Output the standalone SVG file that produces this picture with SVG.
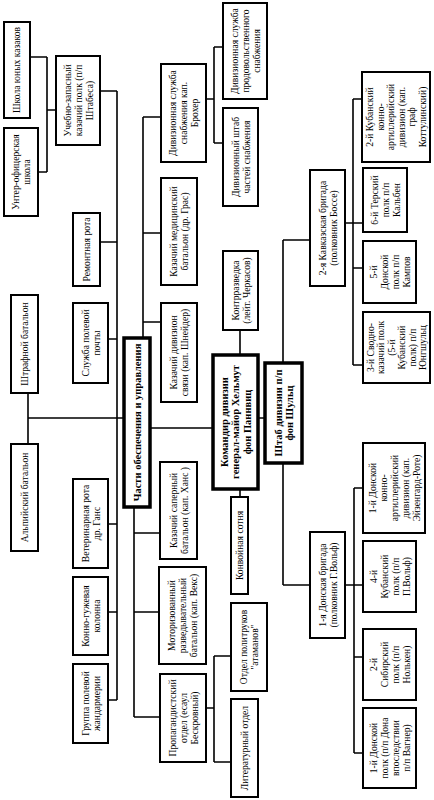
<svg xmlns="http://www.w3.org/2000/svg" width="434" height="800" viewBox="0 0 434 800">
<style>
.b{fill:#fff;stroke:#000;stroke-width:2}
.k{fill:#fff;stroke:#000;stroke-width:3.5}
.c{fill:none;stroke:#000;stroke-width:1.6}
text{font-family:"Liberation Serif","Times New Roman",serif;font-size:9.6px;text-anchor:middle;fill:#000}
.w{font-weight:bold;font-size:10.5px}
</style>
<rect width="434" height="800" fill="#fff"/>
<g id="connectors" class="c">
<path d="M117,91V700M30,57H47M47,57V172M38,172H47M47,110H56M100,91H117M100,242H117M108,339H117M28,393V444M28,418H124M108,524H117M108,612H117M108,700H117"/>
<path d="M143,117V338M143,117H161M143,233H161M143,322H161M206,99H214M214,47V143M214,47H223M214,143H223M150,428H213"/>
<path d="M134,507V717M134,533H160M134,612H159M134,717H160M206,708H214M214,656V762M214,656H231M214,762H231"/>
<path d="M240,330V355M240,489V497M258,418H265M283,240V363M283,240H310M283,463V585M283,585H310"/>
<path d="M345,223H363M353,99V365M353,99H362M353,268H363M353,365H363M345,585H363M354,488V753M354,488H363M354,657H363M354,753H363"/>
</g>
<g id="n1"><rect class="b" x="4" y="22" width="26" height="96"/><text transform="translate(17,70) rotate(-90)"><tspan x="0" y="3.4">Школа юных казаков</tspan></text></g>
<g id="n2"><rect class="b" x="4" y="128" width="34" height="88"/><text transform="translate(21,172) rotate(-90)"><tspan x="0" y="-2">Унтер-офицерская</tspan><tspan x="0" dy="11">школа</tspan></text></g>
<g id="n3"><rect class="b" x="56" y="56" width="44" height="89"/><text transform="translate(78,100.5) rotate(-90)"><tspan x="0" y="-7.5">Учебно-запасный</tspan><tspan x="0" dy="11">казачий полк (п/п</tspan><tspan x="0" dy="11">Штабеса)</tspan></text></g>
<g id="n4"><rect class="b" x="73" y="213" width="27" height="73"/><text transform="translate(86.5,249.5) rotate(-90)"><tspan x="0" y="3.4">Ремонтная рота</tspan></text></g>
<g id="n5"><rect class="b" x="73" y="303" width="35" height="80"/><text transform="translate(90.5,343) rotate(-90)"><tspan x="0" y="-2">Служба полевой</tspan><tspan x="0" dy="11">почты</tspan></text></g>
<g id="n6"><rect class="b" x="11" y="295" width="27" height="98"/><text transform="translate(24.5,344) rotate(-90)"><tspan x="0" y="3.4">Штрафной батальон</tspan></text></g>
<g id="n7"><rect class="b" x="11" y="444" width="27" height="107"/><text transform="translate(24.5,497.5) rotate(-90)"><tspan x="0" y="3.4">Альпийский батальон</tspan></text></g>
<g id="n8"><rect class="b" x="73" y="479" width="35" height="89"/><text transform="translate(90.5,523.5) rotate(-90)"><tspan x="0" y="-2">Ветеринарная рота</tspan><tspan x="0" dy="11">др. Ганс</tspan></text></g>
<g id="n9"><rect class="b" x="73" y="577" width="35" height="78"/><text transform="translate(90.5,616) rotate(-90)"><tspan x="0" y="-2">Конно-гужевая</tspan><tspan x="0" dy="11">колонна</tspan></text></g>
<g id="n10"><rect class="b" x="73" y="664" width="35" height="79"/><text transform="translate(90.5,703.5) rotate(-90)"><tspan x="0" y="-2">Группа полевой</tspan><tspan x="0" dy="11">жандармерии</tspan></text></g>
<g id="n11"><rect class="k" x="124" y="338" width="26" height="169"/><text class="w" transform="translate(137,422.5) rotate(-90)"><tspan x="0" y="3.7">Части обеспечения и управления</tspan></text></g>
<g id="n12"><rect class="b" x="161" y="64" width="45" height="98"/><text transform="translate(183.5,113) rotate(-90)"><tspan x="0" y="-7.5">Дивизионная служба</tspan><tspan x="0" dy="11">снабжения кап.</tspan><tspan x="0" dy="11">Брохер</tspan></text></g>
<g id="n13"><rect class="b" x="223" y="3" width="44" height="96"/><text transform="translate(245,51) rotate(-90)"><tspan x="0" y="-7.5">Дивизионная служба</tspan><tspan x="0" dy="11">продовольственного</tspan><tspan x="0" dy="11">снабжения</tspan></text></g>
<g id="n14"><rect class="b" x="223" y="108" width="35" height="98"/><text transform="translate(240.5,157) rotate(-90)"><tspan x="0" y="-2">Дивизионный штаб</tspan><tspan x="0" dy="11">частей снабжения</tspan></text></g>
<g id="n15"><rect class="b" x="161" y="178" width="36" height="107"/><text transform="translate(179,231.5) rotate(-90)"><tspan x="0" y="-2">Казачий медицинский</tspan><tspan x="0" dy="11">батальон (др. Грас)</tspan></text></g>
<g id="n16"><rect class="b" x="161" y="303" width="36" height="99"/><text transform="translate(179,352.5) rotate(-90)"><tspan x="0" y="-2">Казачий дивизион</tspan><tspan x="0" dy="11">связи (кап. Шнейдер)</tspan></text></g>
<g id="n17"><rect class="b" x="160" y="462" width="37" height="97"/><text transform="translate(178.5,510.5) rotate(-90)"><tspan x="0" y="-2">Казачий саперный</tspan><tspan x="0" dy="11">батальон (кап. Ханс )</tspan></text></g>
<g id="n18"><rect class="b" x="159" y="567" width="47" height="97"/><text transform="translate(182.5,615.5) rotate(-90)"><tspan x="0" y="-7.5">Моторизованный</tspan><tspan x="0" dy="11">разведывательный</tspan><tspan x="0" dy="11">батальон (кап. Векс)</tspan></text></g>
<g id="n19"><rect class="b" x="160" y="674" width="46" height="88"/><text transform="translate(183,718) rotate(-90)"><tspan x="0" y="-7.5">Пропагандистский</tspan><tspan x="0" dy="11">отдел (есаул</tspan><tspan x="0" dy="11">Бескровный)</tspan></text></g>
<g id="n20"><rect class="b" x="231" y="603" width="36" height="88"/><text transform="translate(249,647) rotate(-90)"><tspan x="0" y="-2">Отдел политруков</tspan><tspan x="0" dy="11">"атаманов"</tspan></text></g>
<g id="n21"><rect class="b" x="231" y="699" width="27" height="98"/><text transform="translate(244.5,748) rotate(-90)"><tspan x="0" y="3.4">Литературный отдел</tspan></text></g>
<g id="n22"><rect class="b" x="223" y="251" width="35" height="79"/><text transform="translate(240.5,290.5) rotate(-90)"><tspan x="0" y="-2">Контрразведка</tspan><tspan x="0" dy="11">(лейт. Черкасов)</tspan></text></g>
<g id="n23"><rect class="k" x="213" y="355" width="45" height="134"/><text class="w" transform="translate(235.5,422) rotate(-90)"><tspan x="0" y="-8">Командир дивизии</tspan><tspan x="0" dy="11.5">генерал-майор Хельмут</tspan><tspan x="0" dy="11.5">фон Паннвиц</tspan></text></g>
<g id="n24"><rect class="b" x="231" y="497" width="17" height="97"/><text transform="translate(239.5,545.5) rotate(-90)"><tspan x="0" y="3.4">Конвойная сотня</tspan></text></g>
<g id="n25"><rect class="k" x="265" y="363" width="37" height="100"/><text class="w" transform="translate(283.5,413) rotate(-90)"><tspan x="0" y="-2">Штаб дивизии п/п</tspan><tspan x="0" dy="11.5">фон Шульц</tspan></text></g>
<g id="n26"><rect class="b" x="310" y="170" width="35" height="116"/><text transform="translate(327.5,228) rotate(-90)"><tspan x="0" y="-2">2-я Кавказская бригада</tspan><tspan x="0" dy="11">(полковник Боссе)</tspan></text></g>
<g id="n27"><rect class="b" x="310" y="532" width="35" height="106"/><text transform="translate(327.5,585) rotate(-90)"><tspan x="0" y="-2">1-я Донская бригада</tspan><tspan x="0" dy="11">(полковник Г.Вольф)</tspan></text></g>
<g id="n28"><rect class="b" x="362" y="72" width="68" height="90"/><text transform="translate(396,117) rotate(-90)"><tspan x="0" y="-23">2-й Кубанский</tspan><tspan x="0" dy="10.5">конно-</tspan><tspan x="0" dy="10.5">артиллерийский</tspan><tspan x="0" dy="10.5">дивизион (кап.</tspan><tspan x="0" dy="10.5">граф</tspan><tspan x="0" dy="10.5">Коттулинский)</tspan></text></g>
<g id="n29"><rect class="b" x="363" y="168" width="44" height="64"/><text transform="translate(385,200) rotate(-90)"><tspan x="0" y="-7.5">6-й Терский</tspan><tspan x="0" dy="11">полк п/п</tspan><tspan x="0" dy="11">Кальбен</tspan></text></g>
<g id="n30"><rect class="b" x="363" y="241" width="53" height="62"/><text transform="translate(389.5,272) rotate(-90)"><tspan x="0" y="-13">5-й</tspan><tspan x="0" dy="11">Донской</tspan><tspan x="0" dy="11">полк п/п</tspan><tspan x="0" dy="11">Кампов</tspan></text></g>
<g id="n31"><rect class="b" x="363" y="312" width="67" height="71"/><text transform="translate(396.5,347.5) rotate(-90)"><tspan x="0" y="-23">3-й Сводно-</tspan><tspan x="0" dy="10.5">казачий полк</tspan><tspan x="0" dy="10.5">(5-й</tspan><tspan x="0" dy="10.5">Кубанский</tspan><tspan x="0" dy="10.5">полк) п/п</tspan><tspan x="0" dy="10.5">Юнгшульц</tspan></text></g>
<g id="n32"><rect class="b" x="363" y="443" width="62" height="90"/><text transform="translate(394,488) rotate(-90)"><tspan x="0" y="-18.5">1-й Донской</tspan><tspan x="0" dy="11">конно-</tspan><tspan x="0" dy="11">артиллерийский</tspan><tspan x="0" dy="11">дивизион (кап.</tspan><tspan x="0" dy="11">Эйзенгард-Роте)</tspan></text></g>
<g id="n33"><rect class="b" x="363" y="541" width="53" height="71"/><text transform="translate(389.5,576.5) rotate(-90)"><tspan x="0" y="-13">4-й</tspan><tspan x="0" dy="11">Кубанский</tspan><tspan x="0" dy="11">полк (п/п</tspan><tspan x="0" dy="11">П.Вольф)</tspan></text></g>
<g id="n34"><rect class="b" x="363" y="629" width="53" height="71"/><text transform="translate(389.5,664.5) rotate(-90)"><tspan x="0" y="-13">2-й</tspan><tspan x="0" dy="11">Сибирский</tspan><tspan x="0" dy="11">полк (п/п</tspan><tspan x="0" dy="11">Нолькен)</tspan></text></g>
<g id="n35"><rect class="b" x="363" y="708" width="53" height="80"/><text transform="translate(389.5,748) rotate(-90)"><tspan x="0" y="-13">1-й Донской</tspan><tspan x="0" dy="11">полк (п/п Дона</tspan><tspan x="0" dy="11">впоследствии</tspan><tspan x="0" dy="11">п/п Вагнер)</tspan></text></g>
</svg>
